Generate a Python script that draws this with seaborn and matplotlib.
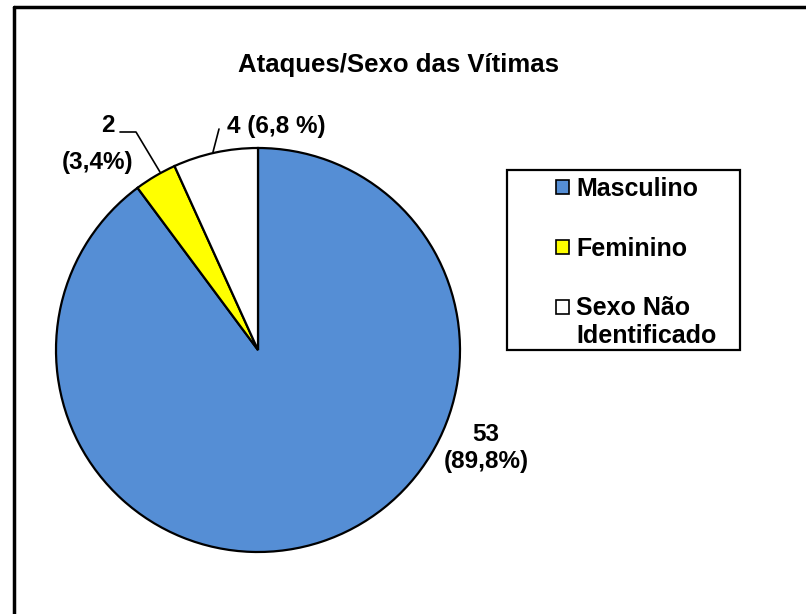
import matplotlib
matplotlib.use('Agg')
import matplotlib.pyplot as plt
import seaborn as sns
from matplotlib.patches import Patch, Rectangle
from matplotlib.lines import Line2D

# Data
categories = ['Masculino', 'Feminino', 'Sexo Não\nIdentificado']
values = [53, 2, 4]
value_labels = ['53\n(89,8%)', '2\n(3,4%)', '4 (6,8 %)']
colors = ['#558ED5', '#FFFF00', '#FFFFFF']

sns.set_theme(style='white')
plt.rcParams['font.family'] = ['Liberation Sans', 'DejaVu Sans']
plt.rcParams['font.weight'] = 'bold'
plt.rcParams['text.color'] = 'black'

W, H = 806, 614
fig = plt.figure(figsize=(W / 100, H / 100), dpi=100)
fig.patch.set_facecolor('white')

# axes in pixel units (y measured from bottom)
ax = fig.add_axes([0, 0, 1, 1])
ax.pie(values, colors=colors, startangle=90, counterclock=False,
       center=(258, H - 350), radius=202,
       wedgeprops={'edgecolor': 'black', 'linewidth': 1.6})
ax.set_xlim(0, W)
ax.set_ylim(0, H)
ax.set_aspect('equal', adjustable='box')
ax.axis('off')

# title
ax.text(398, H - 65, 'Ataques/Sexo das Vítimas', ha='center', va='center',
        fontsize=18.5, fontweight='bold', color='black')

# data labels with leader lines
ax.text(486, H - 448, value_labels[0], ha='center', va='center',
        fontsize=17.5, fontweight='bold', linespacing=1.25, color='black')
top, bottom = value_labels[1].split('\n')
ax.text(108, H - 125, top, ha='center', va='center',
        fontsize=17.5, fontweight='bold', color='black')
ax.text(98, H - 162, bottom, ha='center', va='center',
        fontsize=17.5, fontweight='bold', color='black')
ax.plot([120, 136, 160], [H - 132, H - 132, H - 172], color='black', lw=1.2)
ax.text(276, H - 127, value_labels[2], ha='center', va='center',
        fontsize=17.5, fontweight='bold', color='black')
ax.plot([219, 213], [H - 129, H - 152], color='black', lw=1.2)

# legend box
fig.patches.append(Rectangle((507 / W, 1 - 350 / H), 233 / W, 180 / H,
                             transform=fig.transFigure, facecolor='none',
                             edgecolor='black', linewidth=1.6))
handles = [Patch(facecolor=c, edgecolor='black', linewidth=1.2) for c in colors]
leg = fig.legend(handles, categories, loc='upper left',
                 bbox_to_anchor=(556 / W, 1 - 177 / H), frameon=False,
                 prop={'size': 18, 'weight': 'bold'},
                 handlelength=0.5, handleheight=0.5, handletextpad=0.3,
                 labelspacing=1.43, borderpad=0, borderaxespad=0)
for t in leg.get_texts():
    t.set_color('black')
# put the last marker next to the first line of its two-line label
last = leg.legend_handles[2]
last.set_y(last.get_y() + 11.5)

# outer frame (top and left edges)
fig.lines.append(Line2D([14 / W, 1], [1 - 7 / H, 1 - 7 / H],
                        transform=fig.transFigure, color='black', lw=2.5))
fig.lines.append(Line2D([14 / W, 14 / W], [0, 1 - 7 / H],
                        transform=fig.transFigure, color='black', lw=2.5))

fig.savefig('out.png', dpi=100)
